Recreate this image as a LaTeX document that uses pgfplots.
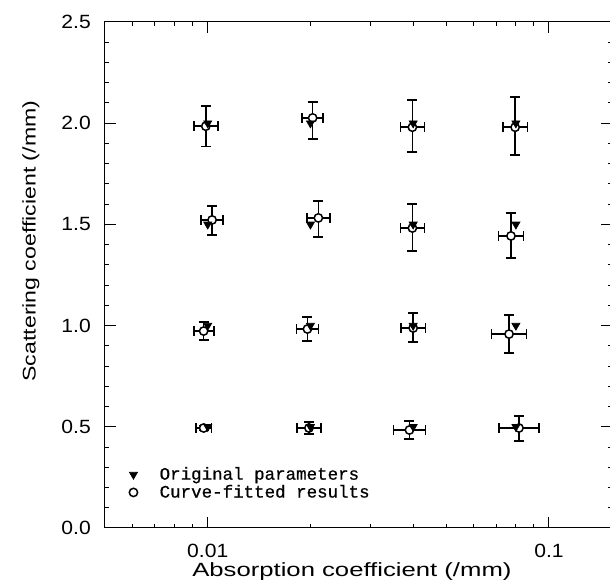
\documentclass[border=0pt]{standalone}
\usepackage{fontspec}
\setmainfont{Liberation Sans}
\newfontfamily\legfont[FakeBold=0.6]{Liberation Mono}
\newfontfamily\tickfont[FakeStretch=1.1]{Liberation Sans}
\newfontfamily\xlabfont[FakeStretch=1.34]{Liberation Sans}
\newfontfamily\ylabfont[FakeStretch=1.26]{Liberation Sans}
\usepackage{pgfplots}
\pgfplotsset{compat=1.18}
\usepackage{pgfplotstable}
\pgfplotsset{dotleg/.style={legend image code/.code={\path (-3pt,0pt) (13.5pt,0pt); \draw[#1] plot coordinates {(0pt,0pt)};}}}

% fitted values with asymmetric error bars (x, y, minus/plus)
\pgfplotstableread{
x       y      xm      xp      ym    yp
0.00987 1.985 0.00077 0.00083 0.100 0.100
0.0203  2.026 0.00139 0.00149 0.104 0.079
0.0398  1.980 0.00309 0.00335 0.122 0.135
0.0796  1.980 0.00642 0.00699 0.137 0.150
0.0103  1.522 0.00074 0.00079 0.074 0.069
0.0211  1.532 0.00157 0.00170 0.094 0.084
0.0398  1.482 0.00309 0.00335 0.115 0.120
0.0774  1.443 0.00625 0.00680 0.109 0.113
0.00973 0.973 0.00063 0.00068 0.044 0.045
0.0196  0.983 0.00140 0.00151 0.059 0.059
0.0400  0.988 0.00323 0.00351 0.069 0.074
0.0764  0.958 0.00849 0.00955 0.093 0.094
0.00973 0.494 0.00051 0.00054 0.012 0.012
0.0198  0.494 0.00154 0.00167 0.030 0.030
0.0390  0.484 0.00398 0.00443 0.044 0.045
0.0817  0.494 0.01030 0.01178 0.064 0.059
}\fitted

\pgfplotstableread{
x    y
0.01 2.0
0.02 2.0
0.04 2.0
0.08 2.0
0.01 1.5
0.02 1.5
0.04 1.5
0.08 1.5
0.01 1.0
0.02 1.0
0.04 1.0
0.08 1.0
0.01 0.5
0.02 0.5
0.04 0.5
0.08 0.5
}\original

\begin{document}
\begin{tikzpicture}
\begin{axis}[
  scale only axis, width=304.2pt, height=303.6pt,
  xmode=log, xmin=0.005, xmax=0.153,
  ymin=0, ymax=2.5,
  xtick={0.01,0.1}, xticklabels={0.01,0.1},
  minor xtick={0.006,0.007,0.008,0.009,0.02,0.03,0.04,0.05,0.06,0.07,0.08,0.09},
  ytick={0,0.5,...,2.5}, minor y tick num=4,
  yticklabel style={/pgf/number format/.cd, fixed, fixed zerofill, precision=1, assume math mode=true},
  tick label style={font=\tickfont\fontsize{11.5}{13}\selectfont},
  xticklabel shift=6pt, yticklabel shift=5pt,
  major tick length=6.5pt, minor tick length=2.5pt,
  tick style={black, line width=0.6pt},
  axis line style={line width=0.6pt},
  xlabel={\xlabfont\fontsize{11.5}{13}\selectfont Absorption coefficient (/mm)},
  ylabel={\ylabfont\fontsize{11}{13}\selectfont Scattering coefficient (/mm)},
  every axis x label/.style={at={(axis description cs:0.487,-0.096)}, anchor=base},
  every axis y label/.style={at={(axis description cs:-0.146,0.567)}, rotate=90, anchor=center},
  legend style={at={(axis description cs:0.045,0.048)}, anchor=south west, draw=none, fill=none,
    font=\legfont\fontsize{10.5}{12}\selectfont, row sep=-2.4pt, inner sep=0pt},
  legend cell align=left,
  reverse legend,
]
\addplot[only marks, mark=*, mark size=2.5pt,
  mark options={fill=white, draw=black, line width=0.9pt}, dotleg,
  error bars/.cd, x dir=both, x explicit, y dir=both, y explicit,
  error bar style={black, line width=1pt},
  error mark options={rotate=90, black, mark size=3pt, line width=1pt}]
  table[x=x, y=y, x error plus=xp, x error minus=xm, y error plus=yp, y error minus=ym] {\fitted};
\addlegendentry{Curve-fitted results}
\addplot[only marks, mark=triangle*, mark size=2.8pt,
  mark options={rotate=180, fill=black, draw=black}, dotleg]
  table[x=x, y=y] {\original};
\addlegendentry{Original parameters}
\end{axis}
\pgfresetboundingbox
\path[use as bounding box] ([xshift=-63pt,yshift=-35.4pt]current axis.south west)
  rectangle ([xshift=-1.2pt,yshift=13.2pt]current axis.north east);
\end{tikzpicture}
\end{document}
